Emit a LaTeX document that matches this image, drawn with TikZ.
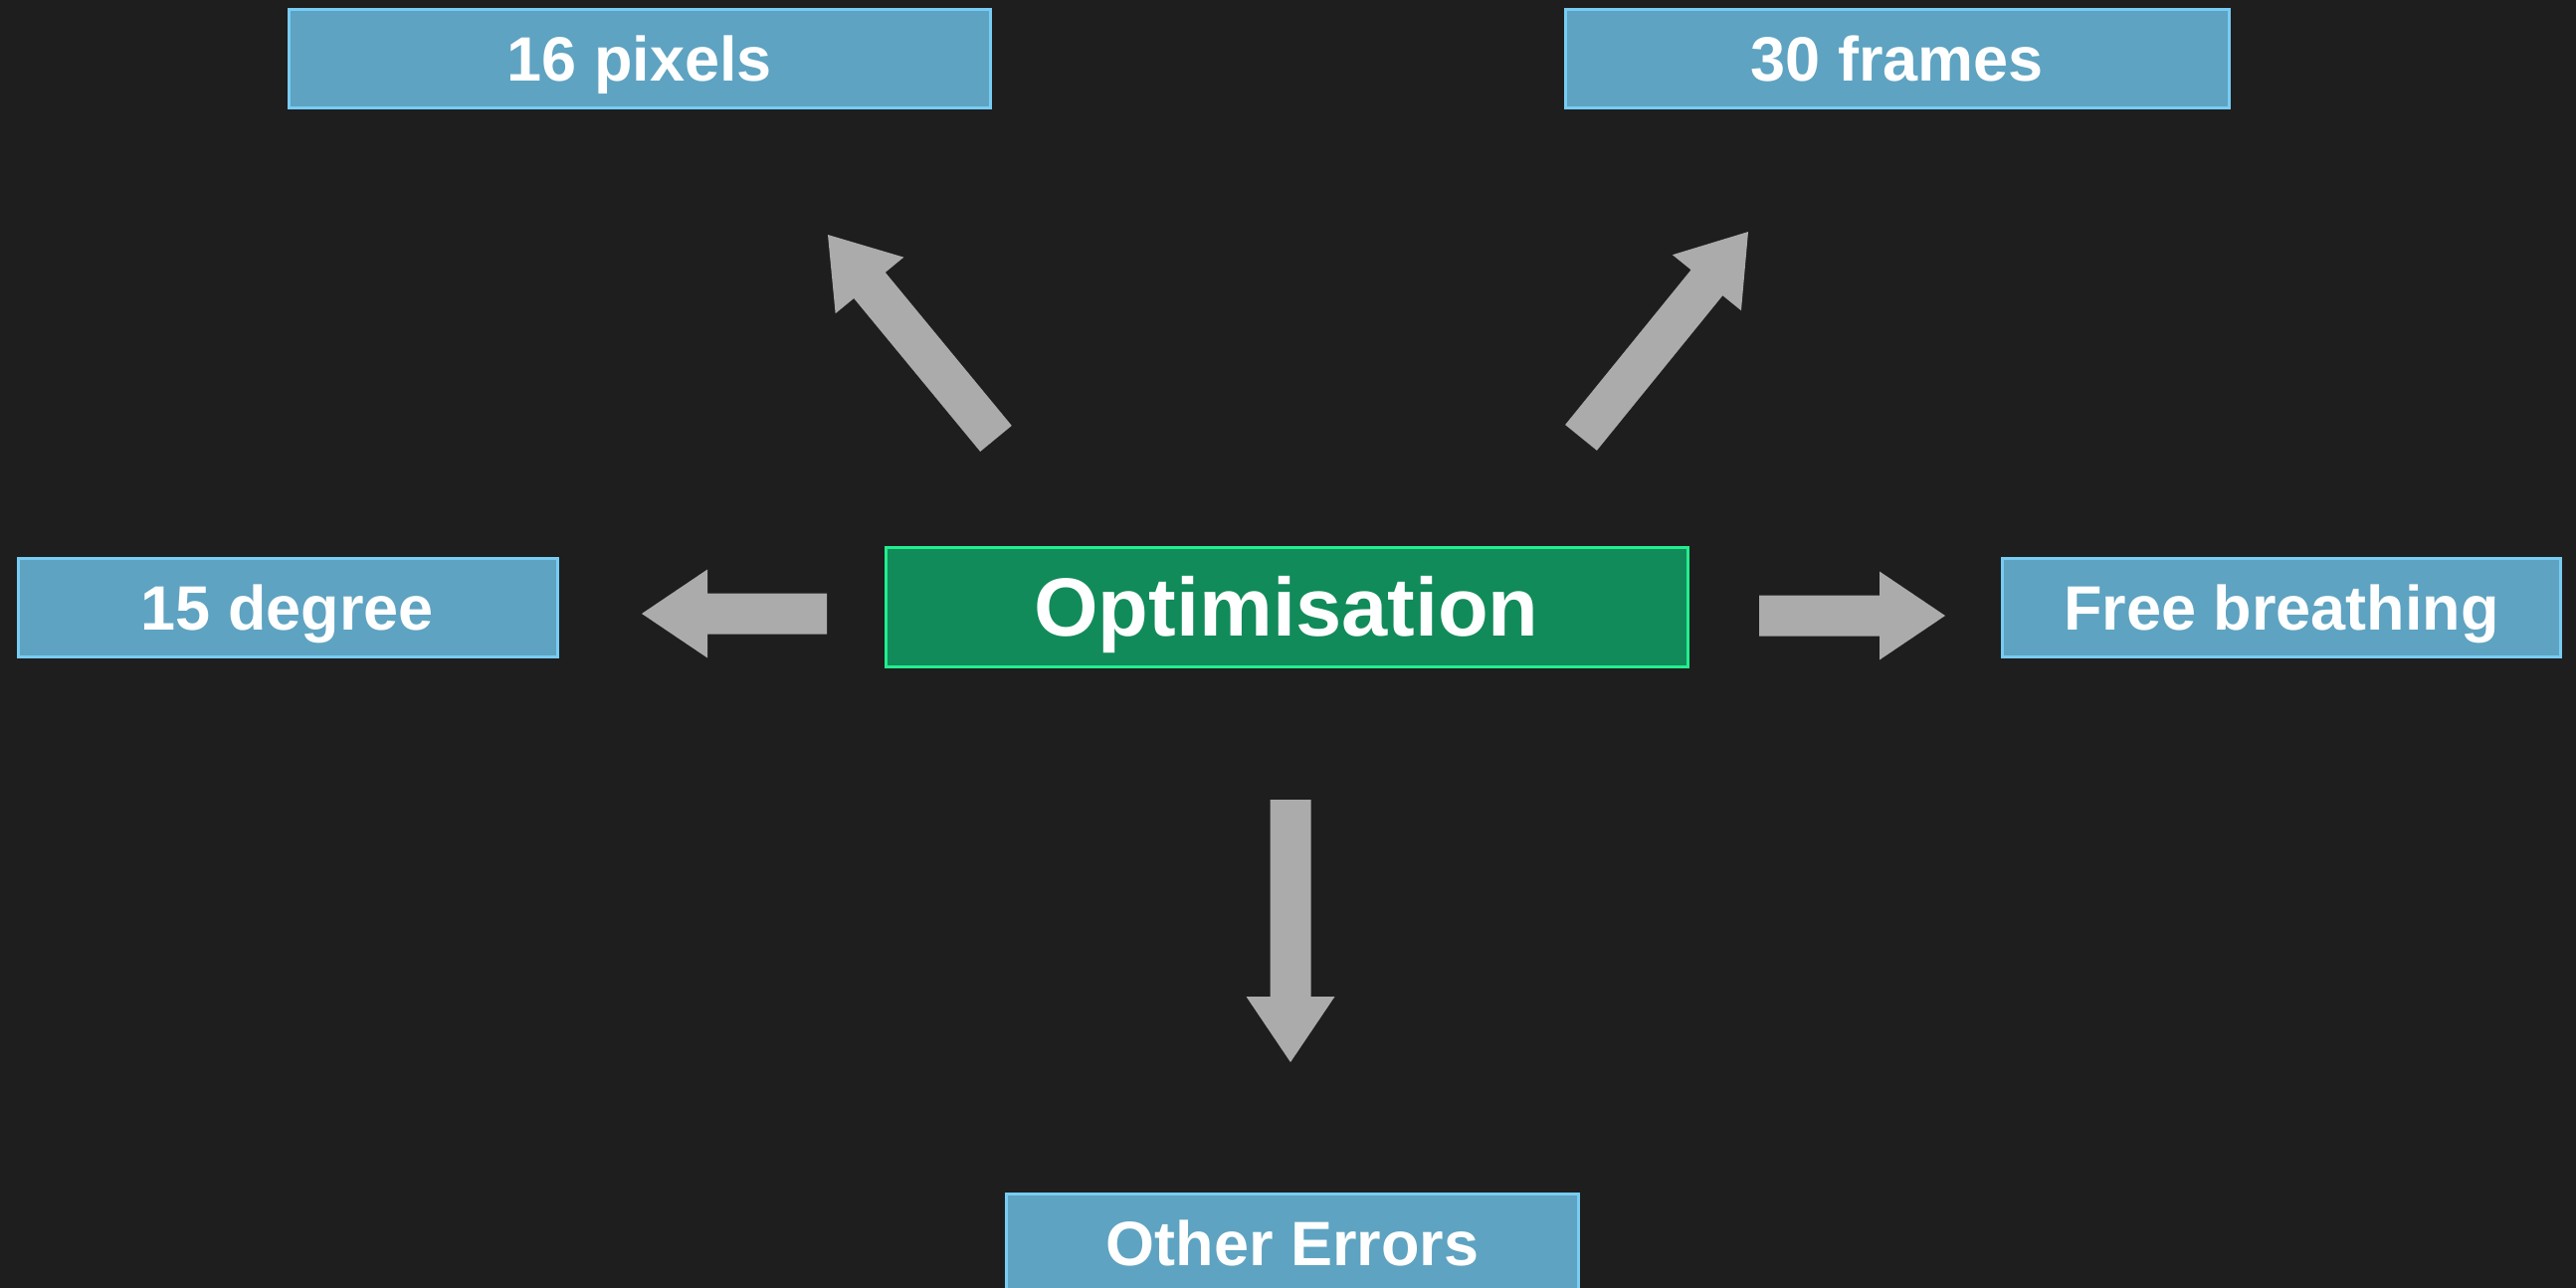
\documentclass[tikz,border=0pt]{standalone}
\usepackage{fontspec}
\setmainfont{Liberation Sans}
\usetikzlibrary{calc}
\definecolor{bg}{HTML}{1E1E1E}
\definecolor{leaffill}{HTML}{5EA3C1}
\definecolor{leafline}{HTML}{78CCF4}
\definecolor{optfill}{HTML}{118B5A}
\definecolor{optline}{HTML}{22EE8E}
\definecolor{arrowgray}{HTML}{ABABAB}
\newcommand\blockarrow[2]{%
  \coordinate (#1h) at ($(#2)!66pt!(#1)$);
  \fill[arrowgray]
    ($(#1)!20.5pt!90:(#2)$) -- ($(#1h)!20.5pt!90:(#2)$) -- ($(#1h)!44.5pt!90:(#2)$)
    -- (#2) -- ($(#1h)!44.5pt!-90:(#2)$) -- ($(#1h)!20.5pt!-90:(#2)$)
    -- ($(#1)!20.5pt!-90:(#2)$) -- cycle;}
\begin{document}
\begin{tikzpicture}[x=1pt,y=-1pt,
  leaf/.style={draw=leafline, fill=leaffill, line width=3pt, text=white,
    font=\bfseries\fontsize{63pt}{70pt}\selectfont, minimum height=99pt,
    inner sep=0pt, text height=45pt, text depth=0pt},
  opt/.style={draw=optline, fill=optfill, line width=3pt, text=white,
    font=\bfseries\fontsize{83pt}{90pt}\selectfont, minimum height=120pt,
    inner sep=0pt, text height=59pt, text depth=0pt}]
\fill[bg] (0,0) rectangle (2589,1295);
\useasboundingbox (0,0) rectangle (2589,1295);
\node[leaf, minimum width=705pt] (b16) at (643,59.5) {16 pixels};
\node[leaf, minimum width=667pt] (b30) at (1907,59.5) {30 frames};
\node[leaf, minimum width=542pt] (b15) at (289,610.5) {15 degree};
\node[leaf, minimum width=561pt] (bfree) at (2293,610.5) {Free breathing};
\node[opt, minimum width=806pt] (opt) at (1293,610) {Optimisation};
\node[leaf, minimum width=575pt, minimum height=100pt] (other) at (1299,1250) {Other Errors};
% arrow end points
\coordinate (aul) at (1001,441); \coordinate (aulT) at (832,236);
\coordinate (aur) at (1589,440); \coordinate (aurT) at (1757,233);
\coordinate (al) at (831,617);   \coordinate (alT) at (645,617);
\coordinate (ar) at (1768,619);  \coordinate (arT) at (1955,619);
\coordinate (ad) at (1297,804);  \coordinate (adT) at (1297,1068);
\blockarrow{aul}{aulT}
\blockarrow{aur}{aurT}
\blockarrow{al}{alT}
\blockarrow{ar}{arT}
\blockarrow{ad}{adT}
\end{tikzpicture}
\end{document}
